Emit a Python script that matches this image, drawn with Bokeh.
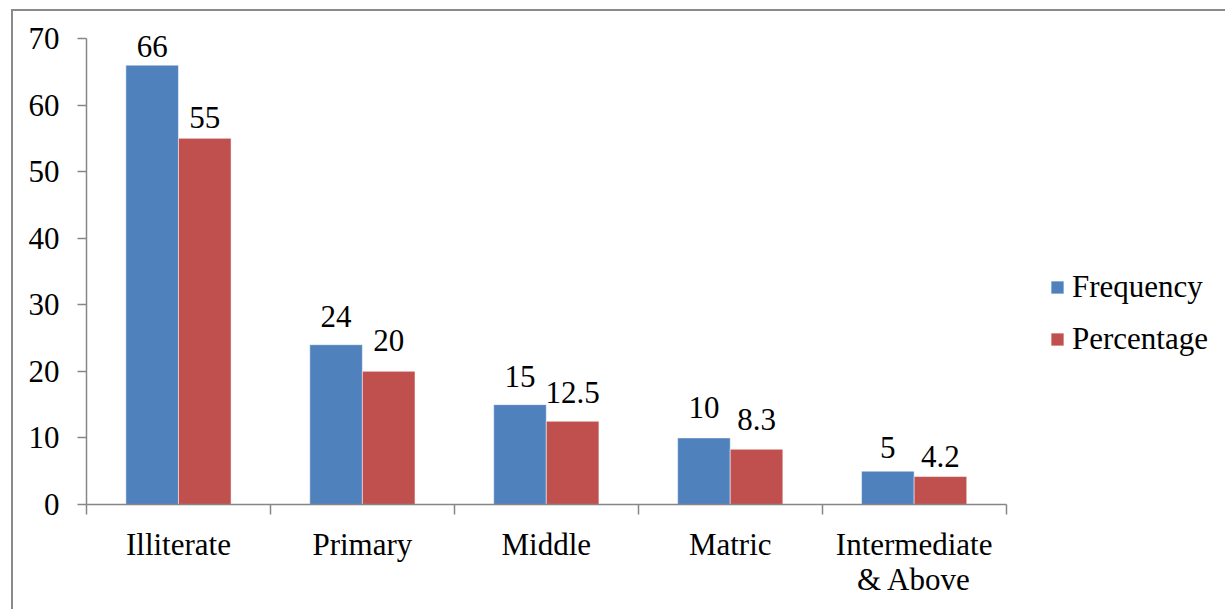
from bokeh.plotting import figure
from bokeh.models import (ColumnDataSource, FixedTicker, Legend, LegendItem,
                          LabelSet, Range1d)
from bokeh.core.properties import value
from bokeh.embed import file_html
from bokeh.resources import INLINE

# Education level of respondents
categories = ["Illiterate", "Primary", "Middle", "Matric", "Intermediate\n& Above"]
frequency = [66, 24, 15, 10, 5]
percentage = [55, 20, 12.5, 8.3, 4.2]
y_ticks = [0, 10, 20, 30, 40, 50, 60, 70]

# hand-placed data labels: pixel lift of each label above its bar
lift_f = [8, 18, 18, 20, 13]
lift_p = [10, 20, 18, 19, 10]

BLUE = "#4F81BD"
RED = "#C0504D"
AXIS = "#868686"
FONT = "Liberation Serif"
FS = "31px"

# outer frame: the chart sits inside a grey border that starts a few px in
OFF_L, OFF_T, BORDER = 11, 9, 2
W = 1225 - OFF_L - BORDER
H = 609 - OFF_T - BORDER

n = len(categories)
bar_w = 0.286
pos = [i + 0.5 for i in range(n)]
# the plotting area runs on to the right edge so the legend can sit in it;
# the axis itself only covers the five categories
AX_L, AX_R = 86, 1004
x_end = n * (1225 - AX_L) / (AX_R - AX_L)
# a little head room above the 70 line keeps the top data label unclipped
AX_TOP, AX_BOT, HEAD = 40, 506, 20
y_max = 70
y_end = y_max + HEAD * y_max / (AX_BOT - AX_TOP)

def fmt(v):
    return f"{v:g}"

src_f = ColumnDataSource(dict(x=[c - bar_w / 2 for c in pos], top=frequency,
                              label=[fmt(v) for v in frequency], lift=lift_f))
src_p = ColumnDataSource(dict(x=[c + bar_w / 2 for c in pos], top=percentage,
                              label=[fmt(v) for v in percentage], lift=lift_p))

p = figure(width=W, height=H, output_backend="svg", toolbar_location=None,
           x_range=Range1d(0, x_end), y_range=Range1d(0, y_end),
           min_border_left=AX_L - OFF_L - BORDER, min_border_right=0,
           min_border_top=27 - HEAD, min_border_bottom=107)
p.styles = {"margin-left": f"{OFF_L}px", "margin-top": f"{OFF_T}px",
            "border-left": f"{BORDER}px solid #8a8a8a",
            "border-top": f"{BORDER}px solid #8a8a8a",
            "box-sizing": "content-box"}
p.background_fill_color = "white"
p.border_fill_color = "white"
p.outline_line_color = None
p.xgrid.visible = False
p.ygrid.visible = False

r_f = p.vbar(x="x", top="top", width=bar_w, source=src_f, fill_color=BLUE,
             line_color="white", line_alpha=0.5, line_width=1)
r_p = p.vbar(x="x", top="top", width=bar_w, source=src_p, fill_color=RED,
             line_color="white", line_alpha=0.5, line_width=1)

for src in (src_f, src_p):
    p.add_layout(LabelSet(x="x", y="top", text="label", source=src,
                          text_align="center", text_baseline="alphabetic",
                          y_offset="lift", text_font=value(FONT),
                          text_font_size=FS, text_color="black"))

# x axis: category labels at the group centres, ticks at the boundaries
xa = p.xaxis[0]
xa.bounds = (0, n)
xa.ticker = FixedTicker(ticks=pos, minor_ticks=list(range(n + 1)))
xa.major_label_overrides = {c: lab for c, lab in zip(pos, categories)}
xa.major_tick_out = 0
xa.major_tick_in = 0
xa.minor_tick_out = 10
xa.minor_tick_in = 0
xa.minor_tick_line_color = AXIS
xa.minor_tick_line_width = 1.5
xa.axis_line_color = AXIS
xa.axis_line_width = 1.5
xa.major_label_standoff = 12
xa.major_label_text_font = FONT
xa.major_label_text_font_size = FS
xa.major_label_text_line_height = 1.0
xa.major_label_text_color = "black"

ya = p.yaxis[0]
ya.bounds = (0, y_max)
ya.ticker = FixedTicker(ticks=y_ticks)
ya.major_tick_out = 9
ya.major_tick_in = 0
ya.minor_tick_out = 0
ya.minor_tick_in = 0
ya.major_tick_line_color = AXIS
ya.major_tick_line_width = 1.5
ya.axis_line_color = AXIS
ya.axis_line_width = 1.5
ya.major_label_standoff = 18
ya.major_label_text_font = FONT
ya.major_label_text_font_size = FS
ya.major_label_text_color = "black"

legend = Legend(items=[LegendItem(label="Frequency", renderers=[r_f]),
                       LegendItem(label="Percentage", renderers=[r_p])],
                location=(963, 147), orientation="vertical",
                glyph_width=16, glyph_height=16, label_standoff=7,
                spacing=16, padding=0, margin=0,
                label_text_font=FONT, label_text_font_size=FS,
                label_text_color="black",
                border_line_color=None, background_fill_alpha=0)
p.add_layout(legend, "center")

open("out.html", "w").write(file_html(p, INLINE))
